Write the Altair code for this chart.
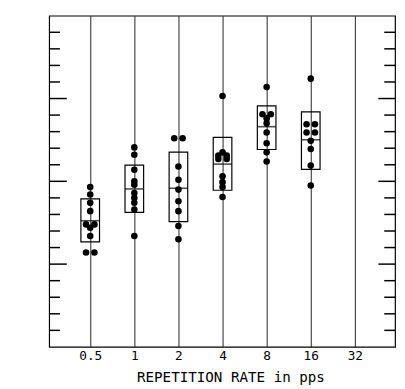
import altair as alt
import pandas as pd

# ---- data ----
rates = [0.5, 1, 2, 4, 8, 16]
rate_ticks = [0.5, 1, 2, 4, 8, 16, 32]

box_low = [1.34, 3.12, 2.57, 4.46, 6.92, 5.72]
box_mid = [2.62, 4.54, 4.58, 6.04, 8.30, 7.51]
box_high = [3.94, 5.98, 6.76, 7.65, 9.56, 9.19]

lv_05 = [4.65, 4.2, 3.7, 3.2, 2.4, 2.4, 2.2, 1.7, 0.7, 0.7]
lv_1 = [7.05, 6.6, 5.7, 5.0, 4.8, 4.3, 4.0, 3.7, 3.3, 1.7]
lv_2 = [7.6, 7.6, 5.9, 5.1, 4.5, 3.8, 3.2, 2.3, 1.5]
lv_4 = [10.15, 6.75, 6.55, 6.55, 6.35, 6.35, 5.3, 4.95, 4.65, 4.05]
lv_8 = [10.7, 9.05, 9.05, 8.8, 8.5, 7.95, 7.3, 6.75, 6.2]
lv_16 = [11.2, 8.45, 8.45, 7.95, 7.95, 7.45, 6.95, 5.95, 4.75]

y_labels = [-5, 0, 5, 10, 15]
y_major = [0, 5, 10]
y_minor = [-4, -3, -2, -1, 1, 2, 3, 4, 6, 7, 8, 9, 11, 12, 13, 14]

# ---- tables ----
levels = [lv_05, lv_1, lv_2, lv_4, lv_8, lv_16]
pts_df = pd.DataFrame(
    [{"rate": r, "level": v} for r, lv in zip(rates, levels) for v in lv]
)
box_df = pd.DataFrame({"rate": rates, "lo": box_low, "mid": box_mid, "hi": box_high})
minor_df = pd.DataFrame({"minor": y_minor})
major_df = pd.DataFrame({"major": y_major})

W, H = 353, 338
FONT = "DejaVu Sans Mono"

xscale = alt.Scale(type="log", base=2, domain=[2 ** -1.82, 2 ** 5.8], nice=False)
yscale = alt.Scale(domain=[-5, 15], nice=False, zero=False)

x_axis = alt.Axis(
    values=rate_ticks, format="~g", grid=True, gridColor="#222", gridWidth=1,
    ticks=False, tickSize=0, domain=False,
    labelFont=FONT, labelFontSize=13, labelPadding=3, labelColor="black",
    title="REPETITION RATE in pps", titleFont=FONT, titleFontSize=14.5,
    titleFontWeight="normal", titleColor="black",
    titleX=185, titleY=35, titleBaseline="alphabetic", titleAlign="center",
)
y_axis = alt.Axis(
    values=y_labels, grid=False, ticks=False, tickSize=0, domain=False,
    labelFont=FONT, labelFontSize=13, labelPadding=8, labelColor="black",
    title="RELATIVE BURST LEVEL in dB(A)", titleFont=FONT, titleFontSize=14.5,
    titleFontWeight="normal", titleColor="black",
    titleX=-28, titleY=169, titleAngle=270, titleBaseline="middle", titleAlign="center",
)

boxes = alt.Chart(box_df).mark_bar(
    size=19, fill="transparent", stroke="black", strokeWidth=1.2
).encode(
    x=alt.X("rate:Q", scale=xscale, axis=x_axis),
    y=alt.Y("lo:Q", scale=yscale, axis=y_axis),
    y2="hi:Q",
)

medians = alt.Chart(box_df).mark_tick(
    orient="horizontal", size=19, thickness=1.6, color="black"
).encode(
    x=alt.X("rate:Q", scale=xscale),
    y=alt.Y("mid:Q", scale=yscale, axis=None),
)

points = alt.Chart(pts_df).transform_joinaggregate(
    n="count()", groupby=["rate", "level"]
).transform_window(
    k="row_number()", groupby=["rate", "level"]
).transform_calculate(
    xp="datum.rate * pow(2, (datum.k - (datum.n + 1) / 2) * 0.19)"
).mark_circle(size=45, color="black", opacity=1).encode(
    x=alt.X("xp:Q", scale=xscale),
    y=alt.Y("level:Q", scale=yscale, axis=None),
)


def ticks(df, field, x0, x1):
    return alt.Chart(df).mark_rule(color="black", strokeWidth=1.5).encode(
        y=alt.Y(f"{field}:Q", scale=yscale, axis=None),
        x=alt.value(x0),
        x2=alt.value(x1),
    )


chart = alt.layer(
    boxes,
    medians,
    points,
    ticks(minor_df, "minor", 0, 11),
    ticks(major_df, "major", 0, 18),
    ticks(minor_df, "minor", W - 11, W),
    ticks(major_df, "major", W - 17, W),
).properties(
    width=W, height=H,
    autosize="none",
    padding={"left": 42, "top": 4, "right": 2, "bottom": 36},
    background="white",
).configure_view(
    stroke="black", strokeWidth=1.2
)

chart.save("out.html", embed_options={"renderer": "svg", "actions": False})
